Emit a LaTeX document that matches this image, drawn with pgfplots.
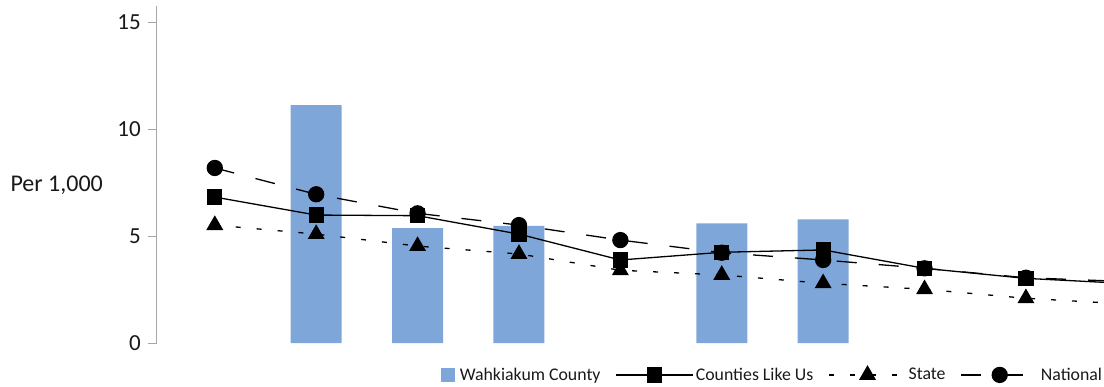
\documentclass[border=0pt]{standalone}
\usepackage{pgfplots}
\pgfplotsset{compat=1.18}
\usepackage{pgfplotstable}
\usepackage{fontspec}
\setmainfont{Carlito}
\definecolor{barblue}{HTML}{7FA6D8}
\definecolor{axgray}{HTML}{A6A6A6}
\pgfplotstableread{
x y
1 11.12
2 5.37
3 5.47
5 5.59
6 5.78
}\bars
\pgfplotstableread{
x y
0 6.82
1 5.98
2 5.95
3 5.09
4 3.88
5 4.24
6 4.35
7 3.49
8 3.02
9 2.78
}\counties
\pgfplotstableread{
x y
0 5.51
1 5.09
2 4.53
3 4.16
4 3.40
5 3.18
6 2.79
7 2.51
8 2.09
9 1.82
}\state
\pgfplotstableread{
x y
0 8.18
1 6.95
2 6.06
3 5.51
4 4.81
5 4.22
6 3.88
7 3.49
8 3.05
9 2.87
}\national
\begin{document}
\begin{tikzpicture}
\begin{axis}[
  scale only axis, width=947pt, height=337pt,
  xmin=-0.57, xmax=8.77, ymin=0, ymax=15.75,
  axis x line=none, axis y line*=left,
  y axis line style={axgray, line width=1pt},
  ytick={0,5,10,15},
  ytick style={axgray, line width=1pt},
  tick align=outside, major tick length=9pt,
  /pgf/number format/assume math mode=true,
  yticklabel style={font=\fontsize{23}{23}\selectfont, text=black!90, inner sep=0pt, xshift=-7pt},
  ylabel={Per 1,000},
  every axis y label/.style={at={(axis description cs:0,0.469)}, anchor=east, xshift=-54pt, inner sep=0pt, font=\fontsize{24}{24}\selectfont, text=black!90},
  legend style={at={(axis description cs:1,0)}, anchor=north east, yshift=-23pt,
    draw=none, fill=none, inner sep=0pt, outer sep=0pt,
    font=\fontsize{17.8}{17.8}\selectfont, text=black!90,
    /tikz/every even column/.append style={column sep=13pt}},
  legend columns=-1,
]
\addplot[ybar, bar width=51pt, bar shift=0pt, fill=barblue, draw=none,
  legend image code/.code={\fill[barblue] (0pt,-7pt) rectangle (14pt,7pt); \path (17pt,0pt);}]
  table[x=x,y=y]{\bars};
\addlegendentry{Wahkiakum County}
\addplot[black, line width=1.3pt, mark=square*, mark size=7pt, mark options={solid},
  legend image code/.code={\draw[mark repeat=2,mark phase=2] plot coordinates {(0pt,0pt) (38.5pt,0pt) (77pt,0pt)};}]
  table[x=x,y=y]{\counties};
\addlegendentry{Counties Like Us}
\addplot[black, line width=1.3pt, dash pattern=on 5pt off 16pt, mark=triangle*, mark size=8.5pt, mark options={solid},
  legend image code/.code={\draw[mark repeat=2,mark phase=2] plot coordinates {(0pt,0pt) (38.5pt,0pt) (77pt,0pt)};}]
  table[x=x,y=y]{\state};
\addlegendentry{State}
\addplot[black, line width=1.3pt, dash pattern=on 20pt off 22pt, mark=*, mark size=7.5pt, mark options={solid},
  legend image code/.code={\draw[mark repeat=2,mark phase=2] plot coordinates {(0pt,0pt) (38.5pt,0pt) (77pt,0pt)};}]
  table[x=x,y=y]{\national};
\addlegendentry{National}
\end{axis}
\path (current axis.north west) ++(0pt,6pt);
\path (current axis.south west) ++(-157pt,-43pt);
\end{tikzpicture}
\end{document}
